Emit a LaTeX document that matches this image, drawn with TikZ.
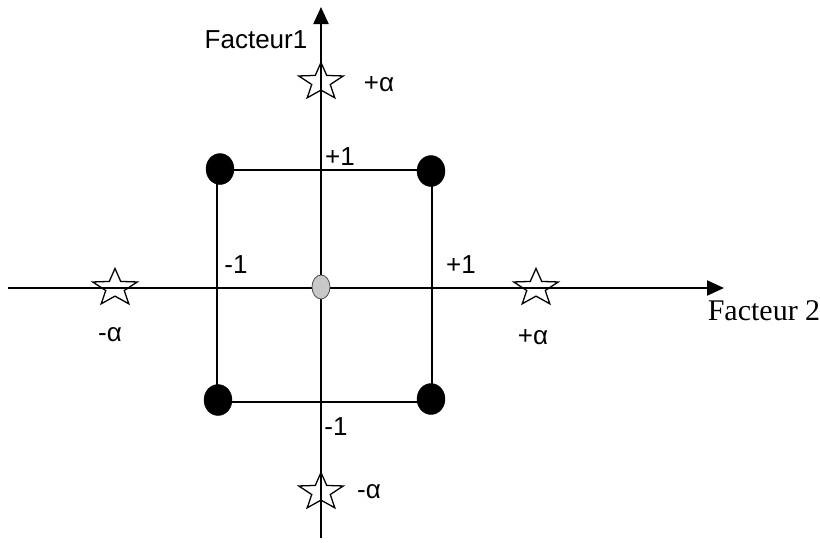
\documentclass[tikz,border=0pt]{standalone}
\usepackage{fontspec}
\setmainfont{Liberation Serif}
\newfontfamily\arialf{Liberation Sans}
\usetikzlibrary{shapes.geometric,arrows.meta}
\definecolor{centergray}{RGB}{200,200,200}
\begin{document}
\begin{tikzpicture}[x=1pt,y=-1pt,
  axis/.style={line width=2.2pt,-{Triangle[length=17pt,width=15pt]}},
  sqline/.style={line width=1.4pt},
  dotpt/.style={ellipse,fill=black,draw=black,minimum width=28pt,minimum height=31pt,inner sep=0pt},
  starpt/.style={star,star points=5,star point ratio=2.4,draw=black,line width=1.3pt,minimum size=39pt,inner sep=0pt,xscale=1.2,transform shape},
  lab/.style={font=\arialf\fontsize{26}{28}\selectfont,inner sep=0pt}]
\useasboundingbox (0,0) rectangle (820,542);
% axes
\coordinate (yb) at (321,538);
\coordinate (yt) at (321,7);
\coordinate (xl) at (8,288);
\coordinate (xr) at (724,288);
\draw[axis] (yb) -- (yt);
\draw[axis] (xl) -- (xr);
% square corners
\coordinate (ctl) at (217,170);
\coordinate (ctr) at (432,170);
\coordinate (cbl) at (217,402);
\coordinate (cbr) at (432,402);
\draw[sqline] (ctl) -- (ctr) -- (cbr) -- (cbl) -- cycle;
\node[dotpt] (dtl) at (220,169) {};
\node[dotpt] (dtr) at (431,171) {};
\node[dotpt] (dbl) at (218,400) {};
\node[dotpt] (dbr) at (431,399) {};
% center
\node[ellipse,fill=centergray,draw=black!70,line width=0.8pt,minimum width=18pt,minimum height=24pt,inner sep=0pt] (cen) at (321,287) {};
% stars
\node[starpt] (st) at (321,82) {};
\node[starpt] (sb) at (321,492) {};
\node[starpt] (sl) at (115,288) {};
\node[starpt] (sr) at (536,288) {};
% labels
\node[lab] (f1) at (256,40) {Facteur1};
\node[lab] (pat) at (379,84) {+α};
\node[lab] (p1t) at (340,157) {+1};
\node[lab] (m1l) at (236,265) {-1};
\node[lab] (p1r) at (461,265) {+1};
\node[lab] (mal) at (110,335) {-α};
\node[lab] (par) at (533,337) {+α};
\node[lab] (m1b) at (336,427) {-1};
\node[lab] (mab) at (369,492) {-α};
\node[font=\fontsize{30}{32}\selectfont,inner sep=0pt] (f2) at (764,311) {Facteur 2};
\end{tikzpicture}
\end{document}
